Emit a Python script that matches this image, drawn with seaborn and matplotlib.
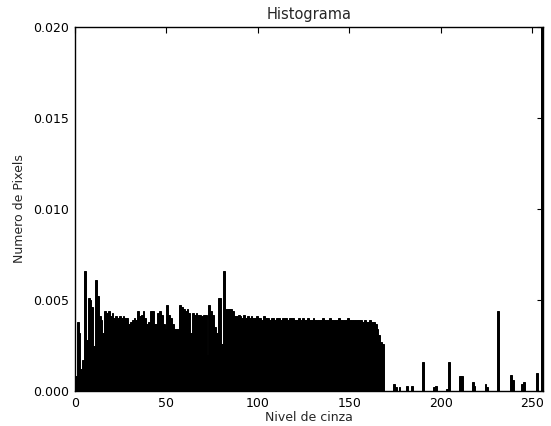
import numpy as np
import pandas as pd
import matplotlib
matplotlib.use("Agg")
import matplotlib.pyplot as plt
import seaborn as sns

# Normalised grey-level histogram
head_vals = [  # levels 0-95
    0.0008, 0.0038, 0.0032, 0.0012, 0.0017, 0.0066, 0.0028, 0.0051,
    0.0050, 0.0046, 0.0025, 0.0061, 0.0052, 0.0041, 0.0039, 0.0032,
    0.0044, 0.0043, 0.0044, 0.0041, 0.0043, 0.0040, 0.0041, 0.0040,
    0.0041, 0.0040, 0.0041, 0.0040, 0.0040, 0.0037, 0.0038, 0.0039,
    0.0040, 0.0039, 0.0044, 0.0041, 0.0042, 0.0044, 0.0040, 0.0037,
    0.0038, 0.0044, 0.0044, 0.0037, 0.0037, 0.0043, 0.0044, 0.0042,
    0.0037, 0.0034, 0.0047, 0.0042, 0.0040, 0.0037, 0.0034, 0.0034,
    0.0034, 0.0047, 0.0046, 0.0045, 0.0044, 0.0045, 0.0043, 0.0032,
    0.0043, 0.0042, 0.0043, 0.0042, 0.0042, 0.0041, 0.0042, 0.0042,
    0.0020, 0.0047, 0.0044, 0.0042, 0.0035, 0.0032, 0.0051, 0.0051,
    0.0026, 0.0066, 0.0045, 0.0045, 0.0045, 0.0045, 0.0044, 0.0041,
    0.0041, 0.0042, 0.0041, 0.0040, 0.0042, 0.0040, 0.0041, 0.0040,
]
plateau_vals = [  # levels 96-168
    0.0041, 0.0040, 0.0040, 0.0041, 0.0040, 0.0040, 0.0039, 0.0041,
    0.0040, 0.0040, 0.0039, 0.0040, 0.0040, 0.0039, 0.0040, 0.0040,
    0.0039, 0.0040, 0.0040, 0.0040, 0.0039, 0.0040, 0.0040, 0.0040,
    0.0039, 0.0039, 0.0040, 0.0039, 0.0040, 0.0039, 0.0039, 0.0040,
    0.0039, 0.0039, 0.0040, 0.0039, 0.0039, 0.0039, 0.0039, 0.0040,
    0.0039, 0.0039, 0.0039, 0.0040, 0.0039, 0.0039, 0.0039, 0.0039,
    0.0040, 0.0039, 0.0039, 0.0039, 0.0039, 0.0040, 0.0039, 0.0039,
    0.0039, 0.0039, 0.0039, 0.0039, 0.0039, 0.0038, 0.0039, 0.0038,
    0.0038, 0.0039, 0.0038, 0.0038, 0.0037, 0.0034, 0.0031, 0.0027,
    0.0026,
]
# sparse tail, levels 169-255 (only the non-empty ones)
tail_levels = [174, 175, 177, 181, 184, 190, 196, 197, 203, 204, 210, 211,
               217, 218, 224, 225, 231, 238, 239, 244, 245, 252, 255]
tail_vals = [0.0004, 0.0002, 0.0002, 0.0003, 0.0003, 0.0016, 0.0002, 0.0003,
             0.0001, 0.0016, 0.0008, 0.0008, 0.0005, 0.0003, 0.0004, 0.0002,
             0.0044, 0.0009, 0.0006, 0.0004, 0.0005, 0.0010, 0.31]

levels = np.arange(256)
dens = np.zeros(256)
dens[:len(head_vals)] = head_vals
dens[96:96 + len(plateau_vals)] = plateau_vals
dens[tail_levels] = tail_vals
df = pd.DataFrame({"nivel": levels + 0.5, "densidade": dens})

sns.set_style("white")
plt.rcParams["font.family"] = ["DejaVu Sans"]
fs = 9

fig = plt.figure(figsize=(5.51, 4.26), dpi=100)
ax = fig.add_axes([75 / 551, 35 / 426, 468 / 551, 364 / 426])

sns.histplot(data=df, x="nivel", weights="densidade", bins=256, binrange=(0, 256),
             color="black", edgecolor="black", linewidth=0.7, alpha=1, ax=ax)

ax.set_xlim(0, 256)
ax.set_ylim(0, 0.020)
ax.set_xticks(range(0, 251, 50))
ax.set_yticks(np.arange(0, 0.0201, 0.005))
ax.tick_params(direction="in", top=True, right=True, length=4, width=0.8,
               labelsize=fs, colors="black", pad=4)
for s in ax.spines.values():
    s.set_color("black")
    s.set_linewidth(1.0)

ax.set_title("Histograma", fontsize=10.5)
ax.set_xlabel("Nivel de cinza", fontsize=fs, labelpad=1)
ax.set_ylabel("Numero de Pixels", fontsize=fs, labelpad=5)

plt.savefig("out.png", dpi=100)
